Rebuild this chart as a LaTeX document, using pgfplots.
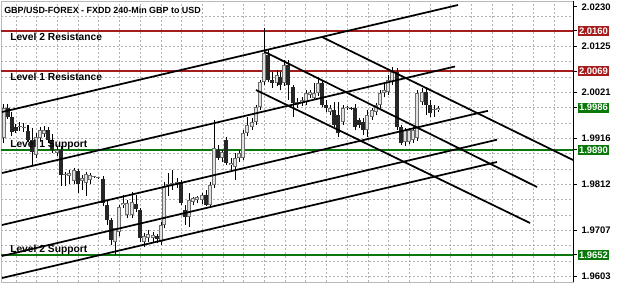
\documentclass[border=0pt]{standalone}
\usepackage{pgfplots}
\usepackage{pgfplotstable}
\pgfplotsset{compat=1.18}
\usepackage{fontspec}
\setmainfont{Liberation Sans}
\definecolor{lvlred}{RGB}{165,28,28}
\definecolor{lvlgreen}{RGB}{10,120,10}
\definecolor{bullfill}{RGB}{225,225,225}
\definecolor{bulledge}{RGB}{110,110,110}

\pgfplotstableread{
x o h l c
4 1.99167 1.99939 1.99054 1.99848
8 1.99848 1.99939 1.99599 1.99644
12 1.99644 1.99758 1.99213 1.99304
16 1.99417 1.99485 1.99281 1.99326
20 1.99417 1.99531 1.99326 1.99440
24 1.99394 1.99508 1.99304 1.99417
28 1.99326 1.99462 1.99077 1.99122
32 1.99122 1.99394 1.98555 1.98850
36 1.98781 1.99281 1.98713 1.99190
40 1.99167 1.99417 1.99099 1.99349
44 1.99258 1.99440 1.99190 1.99349
48 1.99349 1.99417 1.99054 1.99122
52 1.99122 1.99258 1.98827 1.98895
57 1.98827 1.98963 1.98759 1.98895
61 1.98895 1.98986 1.98078 1.98328
65 1.98328 1.98396 1.98078 1.98350
69 1.98305 1.98441 1.98123 1.98373
74 1.98191 1.98486 1.98123 1.98441
78 1.98418 1.98464 1.97919 1.98123
82 1.98191 1.98328 1.97987 1.98259
86 1.98146 1.98396 1.97851 1.98350
90 1.98214 1.98373 1.98123 1.98328
94 1.98282 1.98305 1.98259 1.98282
98 1.98259 1.98282 1.98237 1.98259
103 1.98237 1.98305 1.97624 1.97692
107 1.97647 1.97760 1.97193 1.97306
111 1.97306 1.97351 1.96739 1.96852
115 1.96807 1.97079 1.96512 1.97124
119 1.97034 1.97647 1.96943 1.97601
123 1.97647 1.97874 1.97578 1.97692
127 1.97420 1.97760 1.97351 1.97692
132 1.97420 1.97942 1.97351 1.97715
136 1.97669 1.97874 1.97488 1.97556
140 1.97533 1.97578 1.96807 1.96897
144 1.96807 1.97011 1.96693 1.96943
148 1.96897 1.97079 1.96807 1.96988
153 1.96897 1.97034 1.96807 1.96965
157 1.96943 1.96988 1.96784 1.96875
161 1.96807 1.97261 1.96739 1.97193
164 1.97193 1.98169 1.97124 1.98078
168 1.98078 1.98373 1.97851 1.98123
172 1.98100 1.98441 1.97987 1.98146
177 1.98123 1.98259 1.98032 1.98169
181 1.98169 1.98214 1.97647 1.97692
185 1.97533 1.97647 1.97193 1.97374
189 1.97374 1.97919 1.97147 1.97760
193 1.97715 1.97828 1.97647 1.97805
197 1.97760 1.97851 1.97692 1.97828
202 1.97760 1.97919 1.97669 1.97874
206 1.97874 1.97987 1.97624 1.97647
210 1.97647 1.98169 1.97578 1.98100
214 1.98100 1.99576 1.98032 1.98940
218 1.98895 1.99008 1.98668 1.98713
222 1.98713 1.98895 1.98623 1.98850
226 1.99122 1.99190 1.98555 1.98600
231 1.98555 1.98713 1.98396 1.98600
235 1.98509 1.98827 1.98214 1.98713
239 1.98713 1.98895 1.98623 1.98827
243 1.98713 1.99349 1.98668 1.99281
247 1.99281 1.99644 1.99213 1.99462
252 1.99417 1.99621 1.99349 1.99531
256 1.99531 1.99917 1.99462 1.99871
260 1.99871 2.00484 1.99803 2.00439
264 2.00439 2.01664 2.00371 2.01097
268 2.01052 2.01165 2.00439 2.00484
272 2.00484 2.00666 2.00302 2.00416
277 2.00416 2.00711 2.00348 2.00597
280 2.00552 2.00666 2.00257 2.00371
284 2.00416 2.00938 2.00348 2.00825
288 2.00825 2.00938 2.00030 2.00371
293 2.00325 2.00371 1.99644 1.99962
297 1.99917 2.00076 1.99848 1.99985
302 1.99985 2.00099 1.99894 2.00030
306 1.99985 2.00257 1.99917 2.00189
310 2.00144 2.00257 2.00076 2.00212
314 2.00076 2.00416 2.00030 2.00189
318 2.00189 2.00552 2.00121 2.00416
322 2.00416 2.00484 1.99871 1.99917
326 1.99917 2.00030 1.99758 1.99848
330 1.99758 1.99917 1.99690 1.99848
334 1.99803 1.99985 1.99417 1.99462
338 1.99690 1.99985 1.99190 1.99281
343 1.99531 1.99917 1.99462 1.99848
347 1.99848 1.99894 1.99803 1.99871
351 1.99848 1.99871 1.99803 1.99826
355 1.99848 1.99939 1.99349 1.99417
359 1.99576 1.99621 1.99394 1.99462
363 1.99531 1.99621 1.99235 1.99349
367 1.99349 1.99803 1.99190 1.99690
372 1.99644 1.99848 1.99576 1.99803
376 1.99758 1.99962 1.99690 1.99917
380 1.99917 2.00257 1.99848 2.00189
384 2.00189 2.00416 2.00099 2.00257
388 2.00212 2.00597 2.00144 2.00484
392 2.00439 2.00779 2.00371 2.00666
397 2.00666 2.00756 1.99349 1.99417
401 1.99417 1.99462 1.99008 1.99054
405 1.99077 1.99394 1.98986 1.99349
409 1.99077 1.99394 1.99031 1.99349
413 1.99122 1.99417 1.99054 1.99349
417 1.99167 2.00257 1.99099 2.00189
422 1.99985 2.00302 1.99917 2.00212
426 2.00212 2.00325 1.99690 1.99917
430 1.99917 2.00030 1.99644 1.99735
434 1.99803 1.99917 1.99644 1.99826
438 1.99803 1.99894 1.99758 1.99848
}\candles

\begin{document}
\begin{tikzpicture}
\useasboundingbox (0,0) rectangle (468.75pt,228.75pt);
\begin{axis}[
  at={(0.75pt,17.25pt)}, anchor=south west,
  scale only axis, width=429pt, height=210.75pt,
  xmin=1, xmax=573, ymin=1.959023, ymax=2.02281,
  clip mode=individual,
  axis line style={gray!55, line width=0.6pt},
  xtick={16,36.7,...,560}, xticklabels={},
  x tick style={draw=none},
  ytick={1.9603,1.970733,1.981167,1.9916,2.002033,2.012467},
  yticklabels={\textbf{1.9603},\textbf{1.9707},\textbf{1.9812},\textbf{1.9916},\textbf{2.0021},\textbf{2.0125}},
  minor ytick={1.963778,1.967256,1.974211,1.977689,1.984644,1.988122,1.995078,1.998556,2.005511,2.008989,2.015944,2.019422},
  extra y ticks={2.02145}, extra y tick labels={\textbf{2.0230}},
  extra y tick style={grid=none},
  ytick pos=right, yticklabel pos=right,
  tick align=outside, major tick length=3pt, minor tick length=0pt,
  y tick style={black, line width=0.75pt},
  yticklabel style={font=\fontsize{7.1}{8}\selectfont, text=black},
  grid=both,
  major grid style={gray!60, line width=0.6pt, dash pattern=on 1.6pt off 1.4pt},
  minor grid style={gray!60, line width=0.6pt, dash pattern=on 1.6pt off 1.4pt},
]
% level lines
\addplot[lvlred, line width=1.2pt, forget plot] coordinates {(1,2.0160) (573,2.0160)};
\addplot[lvlred, line width=1.2pt, forget plot] coordinates {(1,2.0069) (573,2.0069)};
\addplot[lvlgreen, line width=1.2pt, forget plot] coordinates {(1,1.9890) (573,1.9890)};
\addplot[lvlgreen, line width=1.2pt, forget plot] coordinates {(1,1.9652) (573,1.9652)};
% wicks
\addplot[draw=none, mark=none, forget plot,
  error bars/.cd, y dir=plus, y explicit, error mark=none,
  error bar style={draw=black, line width=0.75pt}]
  table[x=x, y=l, y error expr=\thisrow{h}-\thisrow{l}] {\candles};
% bull bodies (outline)
\addplot[draw=none, mark=none, forget plot,
  y filter/.expression={\thisrow{c}>=\thisrow{o} ? y : nan},
  error bars/.cd, y dir=plus, y explicit, error mark=none,
  error bar style={draw=bulledge, line width=2.3pt}]
  table[x=x, y=o, y error expr={max(\thisrow{c}-\thisrow{o},0.00016)}] {\candles};
% bull bodies (inside)
\addplot[draw=none, mark=none, forget plot,
  y filter/.expression={\thisrow{c}>=\thisrow{o} ? y : nan},
  error bars/.cd, y dir=plus, y explicit, error mark=none,
  error bar style={draw=bullfill, line width=0.8pt}]
  table[x=x, y expr=\thisrow{o}+0.00017, y error expr={max(\thisrow{c}-\thisrow{o}-0.00034,0)}] {\candles};
% bear bodies
\addplot[draw=none, mark=none, forget plot,
  y filter/.expression={\thisrow{c}<\thisrow{o} ? y : nan},
  error bars/.cd, y dir=plus, y explicit, error mark=none,
  error bar style={draw=black!85, line width=2.3pt}]
  table[x=x, y=c, y error expr={\thisrow{o}-\thisrow{c}}] {\candles};
% ascending channel lines
\addplot[black, line width=1.3pt, forget plot] coordinates {(2,1.997613) (458,2.021902)};
\addplot[black, line width=1.3pt, forget plot] coordinates {(2,1.983766) (455,2.007942)};
\addplot[black, line width=1.3pt, forget plot] coordinates {(2,1.971962) (488,1.997885)};
\addplot[black, line width=1.3pt, forget plot] coordinates {(2,1.964925) (497,1.991325)};
\addplot[black, line width=1.3pt, forget plot] coordinates {(2,1.959931) (497,1.986263)};
% descending lines
\addplot[black, line width=1.3pt, forget plot] coordinates {(322,2.014638) (573,1.986717)};
\addplot[black, line width=1.3pt, forget plot] coordinates {(265,2.011233) (537,1.980588)};
\addplot[black, line width=1.3pt, forget plot] coordinates {(256,2.002607) (530,1.972416)};
% right axis
\draw[black, line width=0.75pt] (rel axis cs:1,0) -- (rel axis cs:1,1);
\coordinate (b1) at (axis cs:573,2.0160);
\coordinate (b2) at (axis cs:573,2.0069);
\coordinate (b3) at (axis cs:573,1.9986);
\coordinate (b4) at (axis cs:573,1.9890);
\coordinate (b5) at (axis cs:573,1.9652);
\end{axis}
% right value boxes
\tikzset{vbox/.style={anchor=west, text=white, font=\bfseries\fontsize{7.1}{8}\selectfont, inner xsep=1.1pt, inner ysep=0pt, minimum height=7.6pt}}
\foreach \c/\col/\t in {b1/lvlred/2.0160, b2/lvlred/2.0069, b3/lvlgreen/1.9986, b4/lvlgreen/1.9890, b5/lvlgreen/1.9652}{
  \draw[black, line width=0.75pt] (\c) -- ++(3pt,0);
  \node[vbox, fill=\col] at ([xshift=3.2pt]\c) {\t};
}
% texts
\node[anchor=base west, inner sep=0pt, font=\bfseries\fontsize{6.7}{8}\selectfont] at (3pt,218.8pt) {GBP/USD-FOREX - FXDD 240-Min GBP to USD};
\node[anchor=base west, inner sep=0pt, font=\bfseries\fontsize{7.7}{9}\selectfont] at (7.5pt,198.5pt) {Level 2 Resistance};
\node[anchor=base west, inner sep=0pt, font=\bfseries\fontsize{7.7}{9}\selectfont] at (7.5pt,168.5pt) {Level 1 Resistance};
\node[anchor=base west, inner sep=0pt, font=\bfseries\fontsize{7.7}{9}\selectfont] at (7.5pt,118.3pt) {Level 1 Support};
\node[anchor=base west, inner sep=0pt, font=\bfseries\fontsize{7.7}{9}\selectfont] at (7.5pt,39.4pt) {Level 2 Support};
\end{tikzpicture}
\end{document}
